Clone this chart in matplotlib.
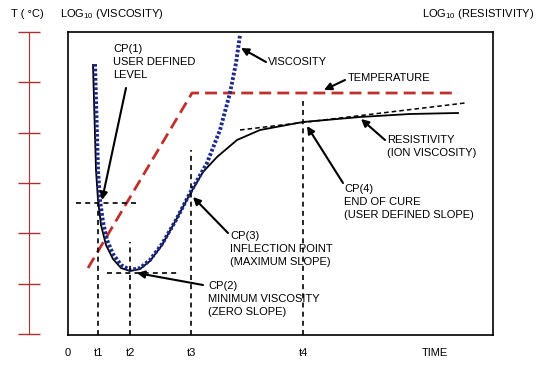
import matplotlib
matplotlib.use("Agg")
import matplotlib.pyplot as plt

plt.rcParams['font.family'] = ['Liberation Sans', 'DejaVu Sans']
plt.rcParams['mathtext.fontset'] = 'custom'
plt.rcParams['mathtext.rm'] = 'Liberation Sans'

# schematic units: time along x, level along y
visc_x = [27, 28, 29, 30, 32, 35, 39, 45, 53, 62, 72, 82, 94, 108, 122, 139, 152, 162, 168, 172]
visc_y = [271, 235, 200, 165, 135, 113, 95, 81, 70, 65, 67, 75, 91, 115, 142, 172, 205, 242, 272, 300]

res_x = [25, 26, 27, 28, 30, 33, 38, 45, 53, 62, 72, 82, 94, 108, 122, 135, 149, 169, 192, 235, 292, 342, 390]
res_y = [270, 235, 200, 165, 135, 110, 90, 76, 67, 64, 66, 74, 90, 115, 141, 163, 178, 195, 205, 213, 218, 221, 222]

temp_x = [20, 124, 390]
temp_y = [67, 242, 242]

tan_x = [172, 397]          # end of cure tangent
tan_y = [205, 232]

t_pos = [30, 62, 123, 235]  # t1..t4
t_top = [132, 93, 185, 234]
cp1_level = 132
cp2_level = 62

tick_pos = [0, 30, 62, 123, 235, 367]
tick_lab = ['0', 't1', 't2', 't3', 't4', 'TIME']

W, H = 542, 370
fig = plt.figure(figsize=(W / 100, H / 100), dpi=100)
ax = fig.add_axes([68 / W, 35 / H, 425 / W, 303 / H])
ax.set_xlim(0, 425)
ax.set_ylim(0, 303)

ax.plot(temp_x, temp_y, color='#c0302c', lw=2, ls=(0, (4.3, 2.2)))
ax.plot(res_x, res_y, color='k', lw=1.3)
ax.plot(visc_x, visc_y, color='#1c2a8c', lw=2.8, ls=(0, (0.7, 0.5)))
ax.plot(tan_x, tan_y, color='k', lw=1.1, ls=(0, (3, 2)))

guide = dict(color='k', lw=1.2, ls=(0, (3, 2.5)))
ax.plot([8, 70], [cp1_level, cp1_level], **guide)
ax.plot([39, 110], [cp2_level, cp2_level], **guide)
for x, top in zip(t_pos, t_top):
    ax.plot([x, x], [0, top], **guide)

ax.set_xticks(tick_pos, tick_lab)
ax.set_yticks([])
ax.tick_params(axis='x', length=0, pad=9, labelsize=8)
for s in ax.spines.values():
    s.set_linewidth(1.2)

arrow = dict(arrowstyle='-|>', color='k', lw=1.5, mutation_scale=11, shrinkA=0, shrinkB=0)
fs = 8
lsp = 1.35
ax.annotate('', xy=(34, 135), xytext=(58, 247), arrowprops=arrow)
ax.text(45, 291, 'CP(1)\nUSER DEFINED\nLEVEL', fontsize=fs, va='top', linespacing=lsp)
ax.annotate('', xy=(173, 287), xytext=(198, 273), arrowprops=arrow)
ax.text(200, 273, 'VISCOSITY', fontsize=fs, va='center')
ax.annotate('', xy=(256, 245), xytext=(277, 255), arrowprops=arrow)
ax.text(280, 257, 'TEMPERATURE', fontsize=fs, va='center')
ax.annotate('', xy=(293, 216), xytext=(317, 195), arrowprops=arrow)
ax.text(319, 200, 'RESISTIVITY\n(ION VISCOSITY)', fontsize=fs, va='top', linespacing=lsp)
ax.annotate('', xy=(239, 209), xytext=(275, 152), arrowprops=arrow)
ax.text(276, 151, 'CP(4)\nEND OF CURE\n(USER DEFINED SLOPE)', fontsize=fs, va='top', linespacing=lsp)
ax.annotate('', xy=(125, 138), xytext=(160, 102), arrowprops=arrow)
ax.text(162, 104, 'CP(3)\nINFLECTION POINT\n(MAXIMUM SLOPE)', fontsize=fs, va='top', linespacing=lsp)
ax.annotate('', xy=(69, 62), xytext=(135, 50), arrowprops=arrow)
ax.text(140, 54, 'CP(2)\nMINIMUM VISCOSITY\n(ZERO SLOPE)', fontsize=fs, va='top', linespacing=lsp)

# red temperature scale on the far left
axt = fig.add_axes([29 / W, 36 / H, 0.001, 302 / H])
axt.set_ylim(0, 6)
axt.set_yticks(range(7), [''] * 7)
axt.set_xticks([])
for k in ['top', 'right', 'bottom']:
    axt.spines[k].set_visible(False)
axt.spines['left'].set_color('#b03030')
axt.tick_params(axis='y', direction='inout', length=16, width=1, color='#b03030')
axt.patch.set_visible(False)

fig.text(11 / W, 1 - 14 / H, 'T ( °C)', fontsize=fs, va='center')
fig.text(60 / W, 1 - 14 / H, r'LOG$_{\mathregular{10}}$ (VISCOSITY)', fontsize=fs, va='center')
fig.text(422 / W, 1 - 14 / H, r'LOG$_{\mathregular{10}}$ (RESISTIVITY)', fontsize=fs, va='center')

fig.savefig('out.png', dpi=100)
